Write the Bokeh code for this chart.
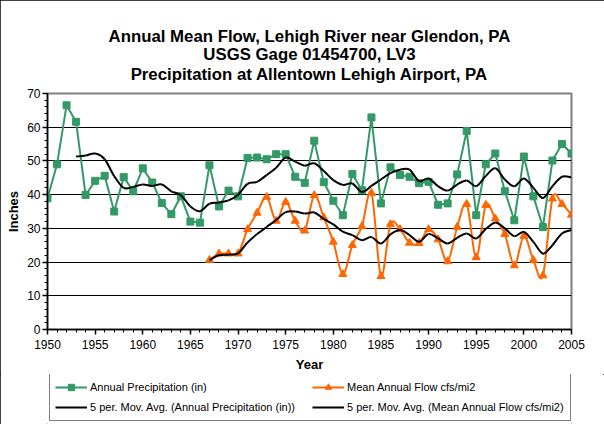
from bokeh.plotting import figure
from bokeh.layouts import column
from bokeh.models import (Range1d, SingleIntervalTicker, Legend, LegendItem,
                          Title)
from bokeh.embed import file_html
from bokeh.resources import INLINE

# ---------------- data ----------------
years_precip = list(range(1950, 2006))
precip = [38.9, 49.0, 66.5, 61.6, 39.9, 44.1, 45.6, 35.0, 45.2, 41.0,
          47.8, 43.6, 37.5, 34.2, 39.5, 32.0, 31.7, 48.7, 36.5, 41.2,
          39.5, 50.9, 51.0, 50.5, 52.0, 52.0, 45.3, 43.5, 56.0, 43.7,
          38.2, 33.9, 46.1, 41.3, 62.9, 37.4, 48.1, 45.8, 45.3, 43.4,
          43.8, 37.0, 37.4, 46.0, 58.9, 33.9, 49.0, 52.2, 41.0, 32.4,
          51.3, 39.5, 30.4, 50.1, 55.0, 52.2]

years_flow = list(range(1967, 2006))
flow = [20.6, 22.5, 22.5, 22.5, 29.7, 34.6, 39.3, 32.2, 37.8, 32.2,
        29.3, 39.8, 33.2, 26.0, 16.4, 25.0, 30.6, 40.5, 15.8, 31.2,
        29.7, 25.7, 25.6, 29.7, 26.7, 20.2, 30.4, 37.2, 21.4, 36.9,
        32.9, 28.3, 19.0, 27.7, 20.6, 16.0, 38.8, 37.2, 34.0]

years_ma_precip = list(range(1953, 2006))
ma_precip = [51.3, 51.6, 52.2, 50.5, 45.5, 42.0, 42.3, 43.0, 42.6, 43.0,
             41.0, 39.8, 36.5, 35.1, 37.3, 37.7, 38.3, 40.0, 43.2, 43.8,
             45.8, 48.0, 51.0, 49.8, 48.6, 49.3, 47.0, 44.3, 42.9, 43.3,
             40.8, 42.6, 44.5, 46.4, 47.4, 47.4, 44.0, 44.8, 42.5, 41.2,
             43.0, 44.2, 42.5, 45.5, 47.8, 44.5, 42.5, 44.8, 42.0, 39.0,
             42.5, 45.3, 45.1]

years_ma_flow = list(range(1967, 2006))
ma_flow = [20.6, 22.0, 22.2, 22.6, 25.8, 28.3, 30.4, 32.5, 34.8, 35.0,
           34.4, 34.7, 32.8, 31.2, 29.0, 28.0, 26.5, 27.4, 25.5, 28.2,
           29.5, 28.0, 26.0, 28.3, 27.0, 25.5, 27.2, 28.5, 27.0, 29.8,
           31.7, 30.0, 27.7, 28.9, 26.0, 22.5, 25.0, 28.5, 29.5]

title_lines = ["Annual Mean Flow, Lehigh River near Glendon, PA",
               "USGS Gage 01454700, LV3",
               "Precipitation at Allentown Lehigh Airport, PA"]
legend_labels = ["Annual Precipitation (in)",
                 "Mean Annual Flow cfs/mi2",
                 "5 per. Mov. Avg. (Annual Precipitation (in))",
                 "5 per. Mov. Avg. (Mean Annual Flow cfs/mi2)"]

GREEN = "#339966"
ORANGE = "#FF6600"
FONT = "Liberation Sans"
NAN = float("nan")


def smooth_segments(xs, ys):
    """Catmull-Rom style control points (like a spreadsheet 'smoothed line')."""
    n = len(xs)
    out = dict(x0=[], y0=[], x1=[], y1=[], cx0=[], cy0=[], cx1=[], cy1=[])
    for i in range(n - 1):
        xp, yp = (xs[i - 1], ys[i - 1]) if i > 0 else (xs[i], ys[i])
        xn, yn = (xs[i + 2], ys[i + 2]) if i + 2 < n else (xs[i + 1], ys[i + 1])
        out["x0"].append(xs[i]); out["y0"].append(ys[i])
        out["x1"].append(xs[i + 1]); out["y1"].append(ys[i + 1])
        out["cx0"].append(xs[i] + (xs[i + 1] - xp) / 6.0)
        out["cy0"].append(ys[i] + (ys[i + 1] - yp) / 6.0)
        out["cx1"].append(xs[i + 1] - (xn - xs[i]) / 6.0)
        out["cy1"].append(ys[i + 1] - (yn - ys[i]) / 6.0)
    return out


# ---------------- main chart ----------------
p = figure(width=604, height=374, output_backend="svg", toolbar_location=None,
           x_range=Range1d(1950, 2005), y_range=Range1d(0, 70),
           min_border_left=47, min_border_right=33,
           min_border_top=93, min_border_bottom=45)
p.background_fill_color = "white"
p.border_fill_color = "white"
p.outline_line_color = "#808080"
p.outline_line_width = 2

yticker = SingleIntervalTicker(interval=10, num_minor_ticks=5)
p.xaxis.ticker = SingleIntervalTicker(interval=5, num_minor_ticks=5)
p.yaxis.ticker = yticker
for ax in (p.xaxis[0], p.yaxis[0]):
    ax.axis_line_color = "black"
    ax.axis_line_width = 1.5
    ax.major_tick_line_color = "black"
    ax.minor_tick_line_color = "black"
    ax.major_tick_line_width = 1.5
    ax.minor_tick_line_width = 1
    ax.major_tick_in = 0
    ax.minor_tick_in = 0
    ax.major_tick_out = 5
    ax.minor_tick_out = 3
    ax.major_label_text_font = FONT
    ax.major_label_text_font_size = "12px"
    ax.major_label_text_color = "black"
    ax.axis_label_text_font = FONT
    ax.axis_label_text_font_size = "13px"
    ax.axis_label_text_font_style = "bold"
    ax.axis_label_text_color = "black"
p.xaxis.axis_label = "Year"
p.yaxis.axis_label = "Inches"
p.xaxis.major_label_standoff = 5
p.xaxis.axis_label_standoff = 5
p.yaxis.major_label_standoff = 2
p.yaxis.axis_label_standoff = 3

p.xgrid.grid_line_color = None
p.ygrid.ticker = yticker
p.ygrid.grid_line_color = "black"
p.ygrid.grid_line_width = 1

# titles (added nearest-to-frame first); standoffs tune the 21px line pitch
for txt, so in zip(reversed(title_lines), (19, -21, 15)):
    p.add_layout(Title(text=txt, align="center", standoff=so,
                       text_font=FONT, text_font_size="16.8px",
                       text_font_style="bold", text_color="black"), "above")

# series
p.line(years_precip, precip, line_color=GREEN, line_width=2)
p.scatter(years_precip, precip, marker="square", size=7,
          fill_color=GREEN, line_color=GREEN)

p.bezier(**smooth_segments(years_flow, flow), line_color=ORANGE, line_width=2)
p.scatter(years_flow, flow, marker="triangle", size=8,
          fill_color=ORANGE, line_color=ORANGE)

p.bezier(**smooth_segments(years_ma_precip, ma_precip),
         line_color="black", line_width=2)
p.bezier(**smooth_segments(years_ma_flow, ma_flow),
         line_color="black", line_width=2)

# ---------------- legend strip (separate small plot holding only the key) ----
q = figure(width=604, height=50, output_backend="svg", toolbar_location=None,
           x_range=Range1d(0, 1), y_range=Range1d(0, 1),
           x_axis_type=None, y_axis_type=None, min_border=0)
q.grid.visible = False
q.outline_line_color = None
q.background_fill_color = "white"
q.border_fill_color = "white"

kp_line = q.line(x=[NAN], y=[NAN], line_color=GREEN, line_width=2)
kp_mark = q.scatter(x=[NAN], y=[NAN], marker="square", size=7,
                    fill_color=GREEN, line_color=GREEN)
kf_line = q.line(x=[NAN], y=[NAN], line_color=ORANGE, line_width=2)
kf_mark = q.scatter(x=[NAN], y=[NAN], marker="triangle", size=8,
                    fill_color=ORANGE, line_color=ORANGE)
kmp = q.line(x=[NAN], y=[NAN], line_color="black", line_width=2)
kmf = q.line(x=[NAN], y=[NAN], line_color="black", line_width=2)

legend = Legend(items=[
    LegendItem(label=legend_labels[0], renderers=[kp_line, kp_mark]),
    LegendItem(label=legend_labels[1], renderers=[kf_line, kf_mark]),
    LegendItem(label=legend_labels[2], renderers=[kmp]),
    LegendItem(label=legend_labels[3], renderers=[kmf]),
], orientation="horizontal", ncols=2, location=(2, 3),
    border_line_color="black", border_line_width=1,
    background_fill_color="white", background_fill_alpha=1,
    glyph_width=32, glyph_height=16, label_height=16, label_standoff=3,
    label_width=218, spacing=4, padding=5, margin=0,
    label_text_font=FONT, label_text_font_size="11px", label_text_color="black")
q.add_layout(legend, "center")

page = column(p, q, spacing=0,
              styles={"outline": "1px solid black", "outline-offset": "-1px"})

open("out.html", "w").write(file_html(page, INLINE))
